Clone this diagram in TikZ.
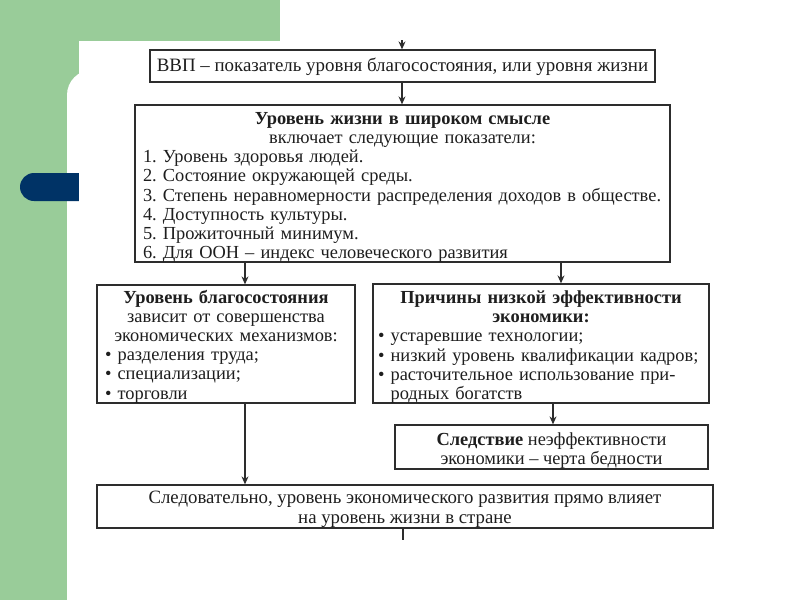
\documentclass[tikz,border=0pt]{standalone}
\usepackage{fontspec}
\setmainfont{Liberation Serif}
\usetikzlibrary{arrows.meta}
\frenchspacing
\definecolor{slidegreen}{RGB}{153,204,153}
\definecolor{slidenavy}{RGB}{0,51,102}
\definecolor{inkc}{RGB}{30,30,30}
\definecolor{linec}{RGB}{45,45,45}
\tikzset{
  frame/.style={draw=linec, line width=1.3pt, rectangle, inner sep=0pt},
  txt/.style={inner sep=0pt, text=inkc, font=\fontsize{18.4}{19.2}\selectfont},
  arr/.style={draw=linec, line width=1.1pt, -{Stealth[length=8pt,width=7pt]}},
  stub/.style={draw=linec, line width=1.1pt}
}
\begin{document}
\begin{tikzpicture}[x=1pt,y=-1pt]
\useasboundingbox (0,0) rectangle (800,600);
% slide background
\fill[white] (0,0) rectangle (800,600);
\fill[slidegreen] (0,0) rectangle (280,600);
\fill[white, rounded corners=25pt] (67,70) rectangle (830,640);
\fill[slidenavy, rounded corners=14pt] (20,173) rectangle (110,201);
\fill[white] (79,41) rectangle (800,600);

% box frames
\node[frame, minimum width=505pt, minimum height=32pt] (b1) at (402.5,66) {};
\node[frame, minimum width=535pt, minimum height=157pt] (b2) at (402.5,183.5) {};
\node[frame, minimum width=258pt, minimum height=118pt] (b3) at (226,344) {};
\node[frame, minimum width=336pt, minimum height=119pt] (b4) at (541,343.5) {};
\node[frame, minimum width=313pt, minimum height=44pt] (b5) at (551.5,447) {};
\node[frame, minimum width=616pt, minimum height=43pt] (b6) at (405,506.5) {};

% box texts
\node[txt, align=center, font=\fontsize{18.9}{19.2}\selectfont] (t1) at ([yshift=-1pt]b1.center)
  {ВВП – показатель уровня благосостояния, или уровня жизни};

\node[txt, text width=519pt] (t2) at ([yshift=-4pt]b2.center)
  {\centering\textbf{Уровень жизни в широком смысле}\\
   включает следующие показатели:\par
   \raggedright
   1. Уровень здоровья людей.\\
   2. Состояние окружающей среды.\\
   \mbox{3. Степень неравномерности распределения доходов в обществе.}\\
   4. Доступность культуры.\\
   5. Прожиточный минимум.\\
   6. Для ООН – индекс человеческого развития\par};

\node[txt, text width=242pt] (t3) at ([yshift=-2.5pt]b3.center)
  {\centering\textbf{Уровень благосостояния}\\
   зависит от совершенства\\
   экономических механизмов:\par
   \raggedright
   \textbullet\ разделения труда;\\
   \textbullet\ специализации;\\
   \textbullet\ торговли\par};

\node[txt, text width=326pt] (t4) at ([yshift=-3.5pt]b4.center)
  {\centering\textbf{Причины низкой эффективности}\\
   \textbf{экономики:}\par
   \raggedright
   \textbullet\ устаревшие технологии;\\
   \mbox{\textbullet\ низкий уровень квалификации кадров;}\\
   \mbox{\textbullet\ расточительное использование при-}\\
   \hphantom{\textbullet\ }родных богатств\par};

\node[txt, align=center] (t5) at ([yshift=-3.5pt]b5.center)
  {\textbf{Следствие} неэффективности\\ экономики – черта бедности};

\node[txt, align=center, font=\fontsize{18.8}{19.6}\selectfont] (t6) at ([yshift=-3pt]b6.center)
  {Следовательно, уровень экономического развития прямо влияет\\ на уровень жизни в стране};

% connectors
\coordinate (top) at (402,40);
\coordinate (bot) at (403,540);
\draw[arr] (top) -- (top |- b1.north);
\draw[arr] (top |- b1.south) -- (top |- b2.north);
\draw[arr] ([xshift=19pt]b3.north |- b2.south) -- ([xshift=19pt]b3.north);
\draw[arr] ([xshift=20pt]b4.north |- b2.south) -- ([xshift=20pt]b4.north);
\draw[arr] ([xshift=12pt]b4.south) -- ([xshift=12pt]b4.south |- b5.north);
\draw[arr] ([xshift=19pt]b3.south) -- ([xshift=19pt]b3.south |- b6.north);
\draw[stub] (bot |- b6.south) -- (bot);
\end{tikzpicture}
\end{document}
